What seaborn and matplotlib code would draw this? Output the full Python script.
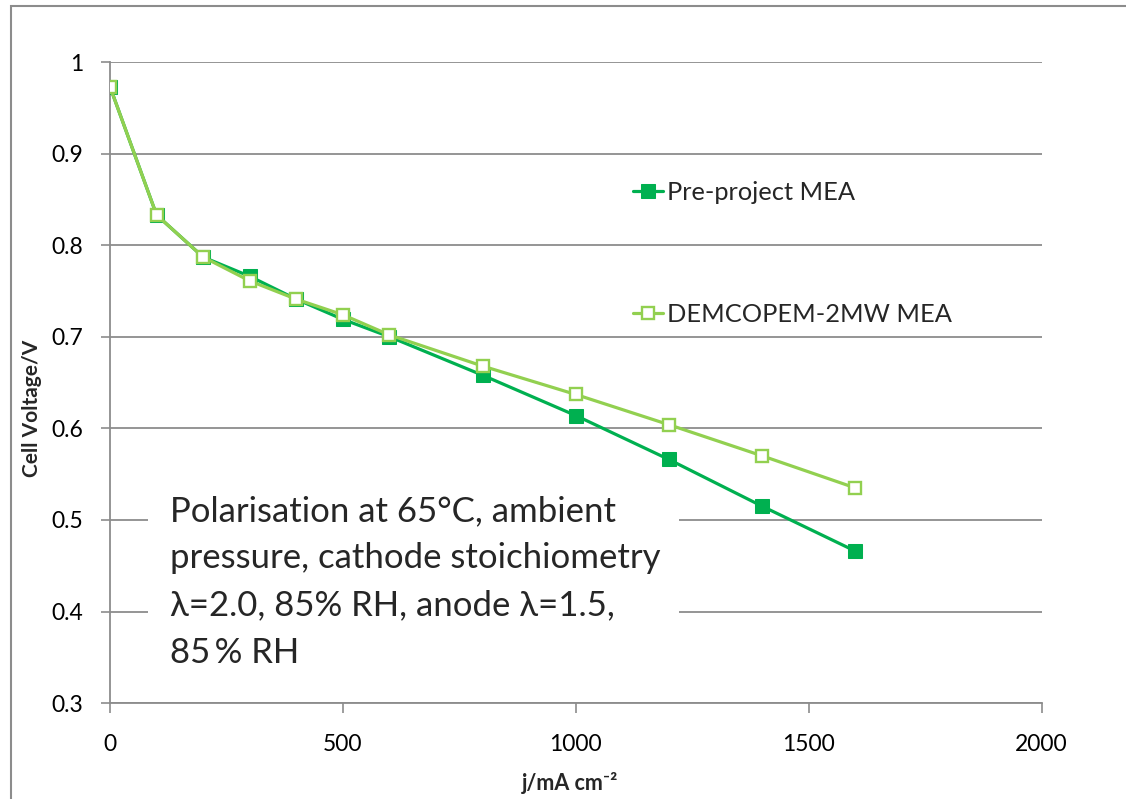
import numpy as np
import pandas as pd
import matplotlib
matplotlib.use('Agg')
import matplotlib.pyplot as plt
import seaborn as sns
from matplotlib.patches import Rectangle

# Polarisation data
current_density = [0, 100, 200, 300, 400, 500, 600, 800, 1000, 1200, 1400, 1600]
pre_project = [0.973, 0.833, 0.787, 0.766, 0.741, 0.719, 0.700, 0.658, 0.614, 0.566, 0.515, 0.466]
demcopem = [0.973, 0.833, 0.787, 0.761, 0.741, 0.724, 0.702, 0.668, 0.637, 0.604, 0.570, 0.535]

x_ticks = [0, 500, 1000, 1500, 2000]
y_ticks = [0.3, 0.4, 0.5, 0.6, 0.7, 0.8, 0.9, 1.0]
y_tick_labels = ['0.3', '0.4', '0.5', '0.6', '0.7', '0.8', '0.9', '1']

sns.set_theme(style='white')
plt.rcParams['font.family'] = ['Lato', 'DejaVu Sans']

dark_green = '#00B050'
light_green = '#92D050'
grid_grey = '#8c8c8c'

fig = plt.figure(figsize=(11.26, 7.99), dpi=100)
ax = fig.add_axes([0.0977, 0.120, 0.8273, 0.8024])

# outer frame of the chart area
fig.patches.append(Rectangle((11 / 1126, -0.05), 1.2, 1 - 6 / 799 + 0.05,
                             transform=fig.transFigure, fill=False,
                             edgecolor='#8c8c8c', linewidth=1.5))

df = pd.DataFrame({'j': current_density, 'pre': pre_project, 'dem': demcopem})

sns.lineplot(data=df, x='j', y='pre', ax=ax, color=dark_green, linewidth=2.3,
             marker='s', markersize=9.5, markerfacecolor=dark_green,
             markeredgecolor=dark_green, label='Pre-project MEA', zorder=4)
sns.lineplot(data=df, x='j', y='dem', ax=ax, color=light_green, linewidth=2.3,
             marker='s', markersize=8.5, markerfacecolor='white',
             markeredgecolor=light_green, markeredgewidth=1.7,
             label='DEMCOPEM-2MW MEA', zorder=4)

ax.set_xlim(0, 2000)
ax.set_ylim(0.3, 1.0)
ax.set_xticks(x_ticks)
ax.set_yticks(y_ticks)
ax.set_yticklabels(y_tick_labels)
ax.tick_params(axis='both', labelsize=16.5, colors=grid_grey, labelcolor='black',
               width=1.2, direction='out', left=True, bottom=True)
ax.tick_params(axis='y', length=6.5, pad=13)
ax.tick_params(axis='x', length=7.5, pad=15)

ax.yaxis.grid(True, color=grid_grey, linewidth=1.3)
ax.xaxis.grid(False)
ax.set_axisbelow(True)
for side in ['top', 'right']:
    ax.spines[side].set_visible(False)
for side in ['left', 'bottom']:
    ax.spines[side].set_color(grid_grey)
    ax.spines[side].set_linewidth(1.3)

ax.set_xlabel('j/mA cm\u207b\u00b2', fontsize=15.5, fontweight='bold')
ax.set_ylabel('Cell Voltage/V', fontsize=15, fontweight='bold')
ax.xaxis.set_label_coords(0.494, -0.108)
ax.yaxis.set_label_coords(-0.073, 0.46)

leg = ax.legend(loc='upper left', bbox_to_anchor=(0.55, 0.83), frameon=False,
                fontsize=18.3, labelspacing=3.9, handlelength=1.2,
                handletextpad=0.15, borderaxespad=0)

# white text box over the gridlines
ax.add_patch(Rectangle((0.041, 0.036), 0.570, 0.312, transform=ax.transAxes,
                       facecolor='white', edgecolor='none', zorder=2))
ax.text(0.0644, 0.189,
        'Polarisation at 65\u00b0C, ambient\npressure, cathode stoichiometry\n'
        '\u03bb=2.0, 85% RH, anode \u03bb=1.5,\n85\u2009% RH',
        transform=ax.transAxes, fontsize=25, va='center', ha='left',
        linespacing=1.58, zorder=3, family=['Lato', 'DejaVu Sans'])

plt.savefig('out.png', dpi=100)
